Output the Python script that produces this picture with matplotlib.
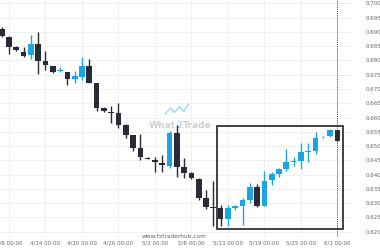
import numpy as np
import matplotlib
matplotlib.use("Agg")
import matplotlib.pyplot as plt
from matplotlib.patches import Rectangle

# candle data (one candle per trading day)
opens = [0.6909, 0.6883, 0.6848, 0.6831, 0.6819, 0.6857, 0.6798, 0.6781, 0.6762, 0.6758,
         0.6735, 0.6743, 0.6782, 0.6720, 0.6634, 0.6621, 0.6615, 0.6574, 0.6539, 0.6492,
         0.6459, 0.6452, 0.6441, 0.6430, 0.6547, 0.6427, 0.6404, 0.6384, 0.6317, 0.6285,
         0.6282, 0.6244, 0.6284, 0.6290, 0.6311, 0.6355, 0.6290, 0.6380, 0.6402, 0.6418,
         0.6444, 0.6446, 0.6480, 0.6481, 0.6530, 0.6535, 0.6556]
highs = [0.6918, 0.6886, 0.6852, 0.6848, 0.6889, 0.6899, 0.6833, 0.6782, 0.6778, 0.6759,
         0.6763, 0.6811, 0.6805, 0.6721, 0.6638, 0.6640, 0.6651, 0.6576, 0.6540, 0.6541,
         0.6462, 0.6462, 0.6468, 0.6553, 0.6574, 0.6457, 0.6410, 0.6387, 0.6346, 0.6377,
         0.6293, 0.6293, 0.6293, 0.6317, 0.6371, 0.6367, 0.6413, 0.6410, 0.6424, 0.6488,
         0.6460, 0.6509, 0.6512, 0.6550, 0.6535, 0.6559, 0.6557]
lows = [0.6881, 0.6823, 0.6834, 0.6813, 0.6805, 0.6752, 0.6766, 0.6757, 0.6758, 0.6714,
        0.6720, 0.6731, 0.6720, 0.6624, 0.6620, 0.6581, 0.6563, 0.6528, 0.6483, 0.6451,
        0.6454, 0.6408, 0.6408, 0.6422, 0.6392, 0.6387, 0.6386, 0.6311, 0.6279, 0.6219,
        0.6219, 0.6220, 0.6276, 0.6223, 0.6301, 0.6287, 0.6289, 0.6363, 0.6392, 0.6413,
        0.6430, 0.6418, 0.6445, 0.6472, 0.6529, 0.6533, 0.6519]
closes = [0.6886, 0.6848, 0.6837, 0.6817, 0.6857, 0.6798, 0.6784, 0.6761, 0.6764, 0.6735,
          0.6744, 0.6782, 0.6722, 0.6633, 0.6623, 0.6616, 0.6575, 0.6539, 0.6492, 0.6460,
          0.6456, 0.6443, 0.6433, 0.6547, 0.6427, 0.6406, 0.6387, 0.6317, 0.6285, 0.6284,
          0.6244, 0.6282, 0.6290, 0.6311, 0.6355, 0.6290, 0.6378, 0.6402, 0.6418, 0.6443,
          0.6446, 0.6478, 0.6482, 0.6527, 0.6533, 0.6556, 0.6519]
date_labels = ["4/8 00:00", "4/14 00:00", "4/20 00:00", "4/26 00:00", "5/2 00:00",
               "5/8 00:00", "5/13 00:00", "5/19 00:00", "5/25 00:00", "6/1 00:00"]
pattern_start = 30  # first candle of the highlighted pattern

up_color = "#1aa6e4"
down_color = "#2a2b36"

o = np.array(opens)
h = np.array(highs)
l = np.array(lows)
c = np.array(closes)
x = np.arange(len(o))

fig = plt.figure(figsize=(3.8, 2.5), dpi=100)
ax = fig.add_axes([0, 13 / 250, 352 / 380, 237 / 250])

colors = np.where(c >= o, up_color, down_color)
ax.vlines(x, l, h, colors=colors, linewidth=1.0, zorder=3)
body_low = np.minimum(o, c)
body_h = np.maximum(np.abs(c - o), 0.0003)
ax.bar(x, body_h, bottom=body_low, width=0.78, color=colors, linewidth=0, zorder=4)

# highlight box around the pattern
y0 = l[pattern_start:].min() - 0.001
y1 = h[pattern_start:].max() + 0.001
ax.add_patch(Rectangle((pattern_start - 0.5, y0), len(o) - pattern_start + 0.3, y1 - y0,
                       fill=False, edgecolor="#333333", linewidth=1.3, zorder=5))

# dotted line on the last candle
ax.axvline(x[-1], color="#555555", linestyle=(0, (1, 1)), linewidth=0.7, zorder=2)

ax.set_xlim(-0.23, 48.0)
ax.set_ylim(0.6181, 0.7012)

ax.set_xticks(x[1::5])
ax.set_xticklabels(date_labels)
yt = np.arange(0.620, 0.7001, 0.005)
ax.set_yticks(yt)
ax.set_yticklabels([f"{v:.3f}" for v in yt])
ax.yaxis.tick_right()
ax.tick_params(axis="both", length=0, labelsize=4.0, labelcolor="#666666")
ax.tick_params(axis="y", pad=9.5)
ax.tick_params(axis="x", pad=2.8)
for lab in ax.get_yticklabels():
    lab.set_horizontalalignment("left")

ax.grid(True, color="#eeeeee", linewidth=0.6, zorder=0)
ax.set_axisbelow(True)
for s in ax.spines.values():
    s.set_visible(False)

# watermark
ax.text(0.50, 0.472, "What", transform=ax.transAxes, fontsize=6.6, fontweight="bold",
        color="#d0d0d0", ha="right", va="center", zorder=1)
ax.text(0.50, 0.472, "2", transform=ax.transAxes, fontsize=6.6, fontweight="bold",
        color="#a8dcf2", ha="left", va="center", zorder=1)
ax.text(0.519, 0.472, "Trade", transform=ax.transAxes, fontsize=6.6, fontweight="bold",
        color="#d0d0d0", ha="left", va="center", zorder=1)
ax.plot([0.47, 0.485, 0.495, 0.51, 0.522, 0.535], [0.52, 0.545, 0.525, 0.55, 0.53, 0.56],
        transform=ax.transAxes, color="#a8dcf2", linewidth=1.2, zorder=1)
fig.text(174 / 380, 1 - 237 / 250, "www.fxtraderhub.com", fontsize=4.2, color="#666666",
         ha="center", va="center")

fig.savefig("out.png", dpi=100)
